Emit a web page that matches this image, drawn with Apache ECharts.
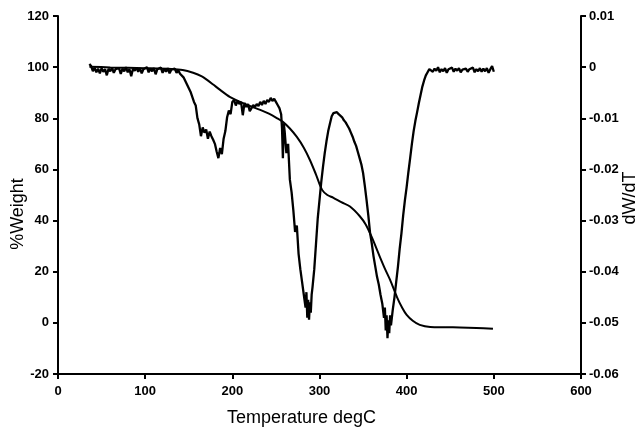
<!DOCTYPE html>
<html>
<head>
<meta charset="utf-8">
<script src="https://cdn.jsdelivr.net/npm/echarts@6/dist/echarts.min.js"></script>
<style>html,body{margin:0;padding:0;background:#fff;}#c{width:642px;height:429px;}</style>
</head>
<body>
<div id="c"></div>
<script>
// Weight curve (% Weight, left axis)
const weightTemp = [36, 60, 100, 130, 143, 155, 165, 171, 178, 186, 197, 209, 220, 232, 242, 251, 258, 266, 274, 282, 289, 296, 303, 309, 316, 325, 335, 346, 353, 360, 369, 375, 381, 389, 395, 400, 407, 415, 427, 445, 461, 480, 499];
const weightValue = [100.2, 99.9, 99.6, 99.3, 98.9, 97.8, 96.4, 95.0, 93.2, 91.1, 88.4, 86.4, 84.8, 83.3, 81.8, 80.1, 78.6, 76.0, 72.7, 68.5, 63.7, 58.0, 52.0, 50.0, 48.9, 47.2, 45.5, 41.8, 38.5, 33.5, 26.0, 21.2, 16.8, 10.0, 5.8, 3.1, 0.8, -0.8, -1.6, -1.7, -1.8, -2.0, -2.3];

// Derivative curve (dW/dT, right axis)
const dtgTemp = [
  36, 38, 40, 42, 44, 46, 48, 50, 52, 54, 56, 58, 60, 62, 64, 66, 68, 70, 72, 74, 76, 78, 80, 82, 84, 86, 88, 90,
  92, 94, 96, 98, 100, 102, 104, 106, 108, 110, 112, 114, 116, 118, 120, 122, 124, 126, 128, 130, 132, 134, 136, 138, 140,
  142, 144, 146, 148, 150, 152, 154, 156, 158, 160, 162, 164, 166, 168, 170, 172, 174, 176, 178, 180, 182, 184, 186, 188, 190,
  192, 194, 196, 198, 200, 202, 204, 206, 208, 210, 212, 214, 216, 218, 220, 222, 224, 226, 228, 230, 232, 234, 236, 238, 240,
  242, 244, 246, 248, 250, 252, 254, 256, 257, 258, 259, 260, 262, 264, 266, 268, 270, 272, 274, 276, 278, 280, 282, 284, 285,
  286, 287, 288, 289, 290, 291, 292, 294, 296, 298, 300, 302, 304, 306, 308, 310, 312, 314, 316, 318, 320, 322, 324, 326, 328,
  330, 332, 334, 336, 338, 340, 342, 344, 346, 348, 350, 352, 354, 356, 358, 360, 362, 364, 366, 368, 370, 372, 374, 375, 376,
  377, 378, 379, 380, 381, 382, 384, 386, 388, 390, 392, 394, 396, 398, 400, 402, 404, 406, 408, 410, 412, 414, 416, 418, 420,
  422, 424, 426, 428, 430, 432, 434, 436, 438, 440, 442, 444, 446, 448, 450, 452, 454, 456, 458, 460, 462, 464, 466, 468, 470,
  472, 474, 476, 478, 480, 482, 484, 486, 488, 490, 492, 494, 496, 498, 500
];
const dtgValue = [
  0.0006, 0.0002, -0.0008, -0.0001, -0.0010, -0.0003, -0.0012, -0.0002, -0.0009, -0.0004, -0.0016, -0.0003, -0.0008, -0.0001, -0.0011, -0.0004, -0.0007, -0.0002, -0.0013, -0.0003, -0.0008, 0.0000, -0.0010, -0.0004, -0.0018, -0.0003, -0.0007, -0.0001,
  -0.0009, -0.0002, -0.0012, -0.0004, -0.0006, 0.0000, -0.0010, -0.0003, -0.0008, -0.0002, -0.0014, -0.0004, -0.0007, -0.0001, -0.0011, -0.0003, -0.0009, -0.0002, -0.0012, -0.0005, -0.0008, -0.0003, -0.0011, -0.0006, -0.0013,
  -0.0010, -0.0020, -0.0022, -0.0034, -0.0032, -0.0048, -0.0050, -0.0068, -0.0075, -0.0100, -0.0112, -0.0135, -0.0118, -0.0128, -0.0122, -0.0140, -0.0126, -0.0135, -0.0142, -0.0150, -0.0165, -0.0178, -0.0158, -0.0170, -0.0140,
  -0.0125, -0.0098, -0.0085, -0.0092, -0.0068, -0.0064, -0.0075, -0.0066, -0.0072, -0.0068, -0.0094, -0.0070, -0.0078, -0.0072, -0.0086, -0.0080, -0.0074, -0.0078, -0.0072, -0.0076, -0.0068, -0.0074, -0.0066, -0.0072, -0.0064,
  -0.0068, -0.0060, -0.0066, -0.0062, -0.0068, -0.0074, -0.0080, -0.0092, -0.0120, -0.0178, -0.0110, -0.0125, -0.0168, -0.0150, -0.0220, -0.0245, -0.0280, -0.0322, -0.0310, -0.0365, -0.0395, -0.0420, -0.0445, -0.0470, -0.0440,
  -0.0490, -0.0455, -0.0494, -0.0460, -0.0480, -0.0445, -0.0430, -0.0395, -0.0345, -0.0295, -0.0260, -0.0225, -0.0195, -0.0168, -0.0145, -0.0125, -0.0110, -0.0096, -0.0090, -0.0087, -0.0088, -0.0092, -0.0094, -0.0098, -0.0104,
  -0.0108, -0.0114, -0.0120, -0.0128, -0.0136, -0.0146, -0.0154, -0.0166, -0.0178, -0.0190, -0.0207, -0.0232, -0.0260, -0.0290, -0.0324, -0.0345, -0.0370, -0.0390, -0.0410, -0.0425, -0.0445, -0.0462, -0.0490, -0.0470, -0.0515,
  -0.0485, -0.0530, -0.0495, -0.0520, -0.0485, -0.0505, -0.0475, -0.0450, -0.0420, -0.0390, -0.0355, -0.0325, -0.0290, -0.0260, -0.0234, -0.0205, -0.0178, -0.0150, -0.0125, -0.0105, -0.0088, -0.0070, -0.0054, -0.0038, -0.0026,
  -0.0016, -0.0010, -0.0004, -0.0002, -0.0009, -0.0003, -0.0007, 0.0000, -0.0010, -0.0004, -0.0008, -0.0002, -0.0011, -0.0004, -0.0006, -0.0001, -0.0009, -0.0003, -0.0007, -0.0002, -0.0010, -0.0005, -0.0008, -0.0003, -0.0009,
  -0.0004, -0.0007, -0.0001, -0.0010, -0.0004, -0.0008, -0.0002, -0.0009, -0.0003, -0.0008, -0.0002, -0.0011, -0.0004, 0.0002, -0.0009
];

const xTitle = 'Temperature degC';
const yLeftTitle = '%Weight';
const yRightTitle = 'dW/dT';

const chart = echarts.init(document.getElementById('c'), null, {renderer: 'canvas'});
const FONT = '"Liberation Sans", Arial, sans-serif';
const labelStyle = {color: '#000', fontFamily: FONT, fontWeight: 'bold', fontSize: 13};
const tickStyle = {show: true, length: 5, lineStyle: {color: '#000', width: 2}};

chart.setOption({
  animation: false,
  backgroundColor: '#fff',
  grid: {left: 58, right: 61, top: 16, bottom: 55, containLabel: false},
  xAxis: {
    type: 'value', min: 0, max: 600, interval: 100,
    axisLine: {show: true, onZero: false, lineStyle: {color: '#000', width: 2}},
    axisTick: tickStyle,
    axisLabel: Object.assign({margin: 11}, labelStyle),
    splitLine: {show: false}
  },
  yAxis: [
    {
      type: 'value', min: -20, max: 120, interval: 20, position: 'left',
      axisLine: {show: true, onZero: false, lineStyle: {color: '#000', width: 2}},
      axisTick: tickStyle,
      axisLabel: Object.assign({margin: 9}, labelStyle),
      splitLine: {show: false}
    },
    {
      type: 'value', min: -0.06, max: 0.01, interval: 0.01, position: 'right',
      axisLine: {show: true, onZero: false, lineStyle: {color: '#000', width: 2}},
      axisTick: tickStyle,
      axisLabel: Object.assign({margin: 8, formatter: v => String(parseFloat(v.toFixed(2)))}, labelStyle),
      splitLine: {show: false}
    }
  ],
  graphic: [
    {type: 'text', left: 303 - 76, top: 409, style: {text: xTitle, font: '18px ' + FONT, fill: '#000'}},
    {type: 'text', x: 18, y: 214, rotation: Math.PI / 2, style: {text: yLeftTitle, font: '18px ' + FONT, fill: '#000', align: 'center', verticalAlign: 'middle'}},
    {type: 'text', x: 630, y: 198, rotation: Math.PI / 2, style: {text: yRightTitle, font: '18px ' + FONT, fill: '#000', align: 'center', verticalAlign: 'middle'}}
  ],
  series: [
    {
      name: 'Weight', type: 'line', yAxisIndex: 0, showSymbol: false, smooth: 0.3,
      lineStyle: {color: '#000', width: 2},
      data: weightTemp.map((t, i) => [t, weightValue[i]])
    },
    {
      name: 'dW/dT', type: 'line', yAxisIndex: 1, showSymbol: false,
      lineStyle: {color: '#000', width: 2.3},
      data: dtgTemp.map((t, i) => [t, dtgValue[i]])
    }
  ]
});
</script>
</body>
</html>
